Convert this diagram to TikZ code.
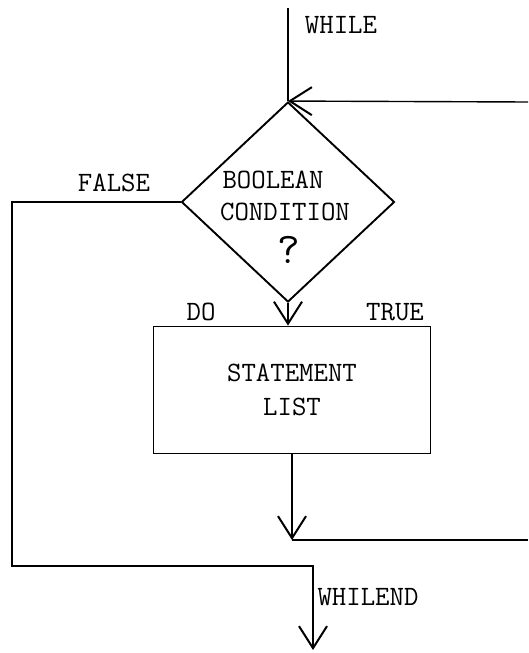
\documentclass[tikz,border=0pt]{standalone}
\usepackage{tikz}
\usetikzlibrary{shapes.geometric,arrows.meta}
\tikzstyle{decision}=[draw=black, shape=diamond, line width=1.9pt, minimum width=213pt, minimum height=200pt, inner sep=0pt]
\tikzstyle{block}=[draw=black, shape=rectangle, line width=1.9pt, minimum width=277pt, minimum height=127pt, align=center]
\tikzstyle{flow edge}=[-, line width=1.4pt]
\tikzstyle{arrow edge}=[-{Straight Barb[length=22pt,width=28pt,line width=2pt]}, line width=1.4pt]
\pgfdeclarelayer{nodelayer}
\pgfdeclarelayer{edgelayer}
\pgfsetlayers{nodelayer,edgelayer,main}

\begin{document}
\begin{tikzpicture}[x=1pt, y=-1pt, every node/.style={font=\ttfamily\fontsize{28}{34}\selectfont}]
	\useasboundingbox (0, 0) rectangle (528, 653);
	\begin{pgfonlayer}{nodelayer}
		\node [style=decision] (0) at (288, 202) {};
		\node [style=block] (1) at (292, 390) {STATEMENT\\LIST};
		\node (2) at (341, 25) {WHILE};
		\node (3) at (273, 180) {BOOLEAN};
		\node (4) at (285, 212) {CONDITION};
		\node [font=\ttfamily\fontsize{44}{50}\selectfont] (5) at (289, 250) {?};
		\node (6) at (114, 183) {FALSE};
		\node (7) at (201, 312) {DO};
		\node (8) at (395, 312) {TRUE};
		\node [anchor=west] (9) at (314, 597) {WHILEND};
		\coordinate (10) at (288, 8);
		\coordinate (11) at (292, 540);
		\coordinate (12) at (528, 540);
		\coordinate (13) at (528, 102);
		\coordinate (14) at (12, 202);
		\coordinate (15) at (12, 566);
		\coordinate (16) at (313, 566);
		\coordinate (17) at (313, 650);
	\end{pgfonlayer}
	\begin{pgfonlayer}{edgelayer}
		\draw [style=flow edge] (10) to (0.north);
		\draw [style=arrow edge] (13) to (0.north);
		\draw [style=arrow edge] (0.west) -- (14) -- (15) -- (16) -- (17);
		\draw [style=arrow edge] (0.south) to (0.south |- 1.north);
		\draw [style=arrow edge] (1.south) to (11);
		\draw [style=flow edge] (11) to (12);
	\end{pgfonlayer}
\end{tikzpicture}
\end{document}
